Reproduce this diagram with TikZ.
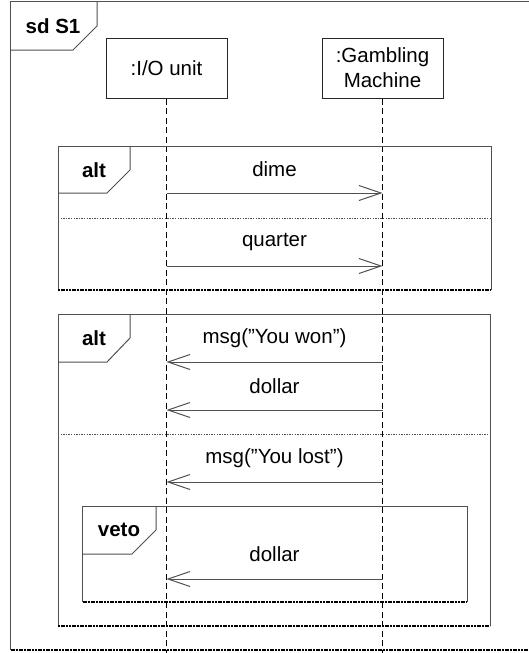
\documentclass[tikz,border=0pt]{standalone}
\usepackage{fontspec}
\setmainfont{Liberation Sans}
\usetikzlibrary{arrows.meta, positioning, shapes}
\usepackage{xcolor}
\definecolor{linegray}{HTML}{505050}

\tikzset{
	head/.style={draw=black!85, line width=1pt, minimum width=121pt, minimum height=60pt, align=center, inner sep=0pt},
	lifeline/.style={draw=black, line width=1pt, dash pattern=on 6pt off 3.5pt},
	frame/.style={draw=linegray, line width=1pt},
	framebottom/.style={draw=black, line width=1.6pt, dash pattern=on 2pt off 0.7pt},
	divider/.style={draw=linegray, line width=1pt, dash pattern=on 1.3pt off 1.3pt},
	msg/.style={draw=linegray, line width=1pt, -{Straight Barb[length=22pt, width=15pt, line width=1pt]}},
	tagtext/.style={font=\fontsize{20.5}{25}\selectfont\bfseries},
}

\begin{document}
\begin{tikzpicture}[x=1pt, y=-1pt, font=\fontsize{20.5}{25}\selectfont]
	\useasboundingbox (0, 0) rectangle (528, 653);
	
	% outer frame sd S1
	\draw[frame] (10.5, 650) -- (10.5, 1.5) -- (535, 1.5);
	\draw[framebottom] (10.5, 650) -- (535, 650);
	\draw[frame] (10.5, 50) -- (73, 50) -- (97, 26) -- (97, 1.5);
	\node[tagtext] (sdtag) at (53, 26) {sd S1};
	
	% lifeline heads
	\node[head] (io) at (166.5, 68) {:I/O unit};
	\node[head] (gm) at (382.5, 68) {:Gambling\\Machine};
	
	% lifelines
	\coordinate (ioend) at (166.5, 660);
	\coordinate (gmend) at (382.5, 660);
	\draw[lifeline] (io.south) -- (ioend);
	\draw[lifeline] (gm.south) -- (gmend);
	
	% first alt fragment
	\draw[frame] (58, 290) -- (58, 146) -- (491, 146) -- (491, 290);
	\draw[framebottom] (58, 290) -- (491, 290);
	\draw[frame] (58, 193) -- (107, 193) -- (130, 170) -- (130, 146);
	\node[tagtext] (altA) at (94, 170) {alt};
	\draw[divider] (58, 218) -- (491, 218);
	
	% dime
	\draw[msg] (io.south |- 0, 193) -- (gm.south |- 0, 193);
	\node (dime) at (274.5, 169) {dime};
	
	% quarter
	\draw[msg] (io.south |- 0, 266) -- (gm.south |- 0, 266);
	\node (quarter) at (274.5, 242) {quarter};
	
	% second alt fragment
	\draw[frame] (58, 626) -- (58, 314) -- (490, 314) -- (490, 626);
	\draw[framebottom] (58, 626) -- (490, 626);
	\draw[frame] (58, 362) -- (107, 362) -- (130, 338) -- (130, 314);
	\node[tagtext] (altB) at (94, 338) {alt};
	\draw[divider] (58, 434) -- (490, 434);
	
	% msg("You won")
	\draw[msg] (gm.south |- 0, 362) -- (io.south |- 0, 362);
	\node (won) at (274.5, 338) {msg(”You won”)};
	
	% dollar
	\draw[msg] (gm.south |- 0, 410) -- (io.south |- 0, 410);
	\node (dollarA) at (274.5, 386) {dollar};
	
	% msg("You lost")
	\draw[msg] (gm.south |- 0, 482) -- (io.south |- 0, 482);
	\node (lost) at (274.5, 458) {msg(”You lost”)};
	
	% veto fragment
	\draw[frame] (82.5, 602) -- (82.5, 506) -- (467, 506) -- (467, 602);
	\draw[framebottom] (82.5, 602) -- (467, 602);
	\draw[frame] (82.5, 554) -- (132, 554) -- (156, 530) -- (156, 506);
	\node[tagtext] (veto) at (119, 530) {veto};
	
	% dollar
	\draw[msg] (gm.south |- 0, 579) -- (io.south |- 0, 579);
	\node (dollarB) at (274.5, 554) {dollar};
	
\end{tikzpicture}
\end{document}
